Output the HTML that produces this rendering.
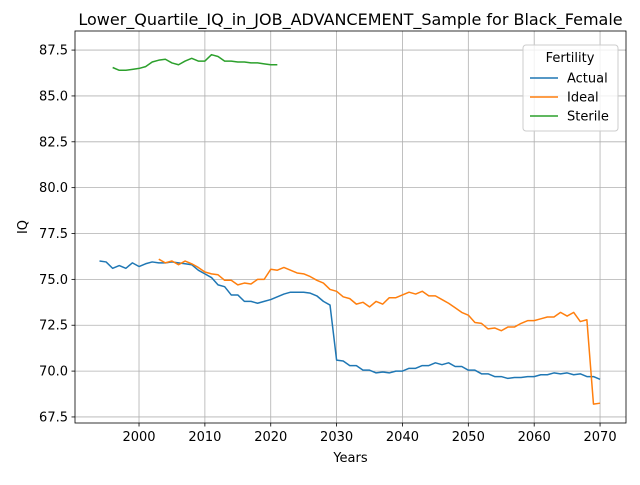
<!DOCTYPE html>
<html><head><meta charset="utf-8"><style>
body{margin:0;background:#fff;}
svg{font-family:"DejaVu Sans","Liberation Sans",sans-serif;}
</style></head><body>
<svg id="chart" width="640" height="480"></svg>
<script>
const actualYears=[1994,2070];
const actualValues=[76.0,75.95,75.6,75.75,75.6,75.9,75.7,75.85,75.95,75.9,75.9,75.95,75.9,75.85,75.8,75.5,75.3,75.1,74.7,74.6,74.15,74.15,73.8,73.8,73.7,73.8,73.9,74.05,74.2,74.3,74.3,74.3,74.25,74.1,73.8,73.6,70.6,70.55,70.3,70.3,70.05,70.05,69.9,69.95,69.9,70.0,70.0,70.15,70.15,70.3,70.3,70.45,70.35,70.45,70.25,70.25,70.05,70.05,69.85,69.85,69.7,69.7,69.6,69.65,69.65,69.7,69.7,69.8,69.8,69.9,69.85,69.9,69.8,69.85,69.7,69.7,69.55];
const idealStart=2003;
const idealValues=[76.1,75.9,76.0,75.8,76.0,75.85,75.65,75.4,75.3,75.25,74.95,74.95,74.7,74.8,74.75,75.0,75.0,75.55,75.5,75.65,75.5,75.35,75.3,75.15,74.95,74.8,74.45,74.35,74.05,73.95,73.65,73.75,73.5,73.8,73.65,74.0,74.0,74.15,74.3,74.2,74.35,74.1,74.1,73.9,73.7,73.45,73.2,73.05,72.65,72.6,72.3,72.35,72.2,72.4,72.4,72.6,72.75,72.75,72.85,72.95,72.95,73.2,73.0,73.2,72.7,72.8,68.2,68.25];
const sterileStart=1996;
const sterileValues=[86.55,86.4,86.4,86.45,86.5,86.6,86.85,86.95,87.0,86.8,86.7,86.9,87.05,86.9,86.9,87.25,87.15,86.9,86.9,86.85,86.85,86.8,86.8,86.75,86.7,86.7];
const xTicks=[2000,2010,2020,2030,2040,2050,2060,2070];
const yTicks=[67.5,70.0,72.5,75.0,77.5,80.0,82.5,85.0,87.5];

const svg=document.getElementById('chart');
const NS='http://www.w3.org/2000/svg';
const L=75,R=626,T=31,B=423;
const xmin=1990.28,xmax=2073.94,ymin=67.17,ymax=88.54;
const X=v=>L+(v-xmin)/(xmax-xmin)*(R-L);
const Y=v=>B-(v-ymin)/(ymax-ymin)*(B-T);
function mk(tag,attrs,parent){const e=document.createElementNS(NS,tag);for(const k in attrs)e.setAttribute(k,attrs[k]);(parent||svg).appendChild(e);return e;}
const grid=mk('g',{});


xTicks.forEach(t=>{
  mk('line',{x1:X(t),x2:X(t),y1:T,y2:B,stroke:'#b0b0b0','stroke-width':0.8},grid);
  mk('line',{x1:X(t),x2:X(t),y1:B,y2:B+3.5,stroke:'#000','stroke-width':0.8});
  const tx=mk('text',{x:X(t),y:B+18,'text-anchor':'middle','font-size':13});
  tx.textContent=t;
  
  
});
yTicks.forEach(t=>{
  mk('line',{x1:L,x2:R,y1:Y(t),y2:Y(t),stroke:'#b0b0b0','stroke-width':0.8},grid);
  mk('line',{x1:L-3.5,x2:L,y1:Y(t),y2:Y(t),stroke:'#000','stroke-width':0.8});
  const tx=mk('text',{x:L-7,y:Y(t)+4.5,'text-anchor':'end','font-size':13});
  tx.textContent=t.toFixed(1);
  
  
});
function line(start,vals,color,name){
  const p=vals.map((v,i)=>X(start+i).toFixed(2)+','+Y(v).toFixed(2)).join(' ');
  const pl=mk('polyline',{points:p,fill:'none',stroke:color,'stroke-width':1.5,'stroke-linejoin':'round'});
  
  
}
line(actualYears[0],actualValues,'#1f77b4','actual-line');
line(idealStart,idealValues,'#ff7f0e','ideal-line');
line(sterileStart,sterileValues,'#2ca02c','sterile-line');
const frame=mk('rect',{x:L,y:T,width:R-L,height:B-T,fill:'none',stroke:'#000','stroke-width':0.8});


const title=mk('text',{x:(L+R)/2,y:T-6,'text-anchor':'middle','font-size':16});
title.textContent='Lower_Quartile_IQ_in_JOB_ADVANCEMENT_Sample for Black_Female';


const xl=mk('text',{x:(L+R)/2,y:462,'text-anchor':'middle','font-size':13});
xl.textContent='Years';


const yl=mk('text',{x:27,y:(T+B)/2,'text-anchor':'middle','font-size':13,transform:'rotate(-90 27 '+((T+B)/2)+')'});
yl.textContent='IQ';


const lg=mk('g',{});


mk('rect',{x:523,y:45,width:95,height:86,rx:3,fill:'#fff','fill-opacity':0.8,stroke:'#ccc'},lg);
const lt=mk('text',{x:570,y:62,'text-anchor':'middle','font-size':13},lg);
lt.textContent='Fertility';
[['Actual','#1f77b4'],['Ideal','#ff7f0e'],['Sterile','#2ca02c']].forEach((d,i)=>{
  const y=78+i*19;
  const e=mk('g',{},lg);
  
  
  mk('line',{x1:530,x2:558,y1:y,y2:y,stroke:d[1],'stroke-width':1.5},e);
  const t=mk('text',{x:567,y:y+4.5,'font-size':13},e);
  t.textContent=d[0];
});
</script>
</body></html>
